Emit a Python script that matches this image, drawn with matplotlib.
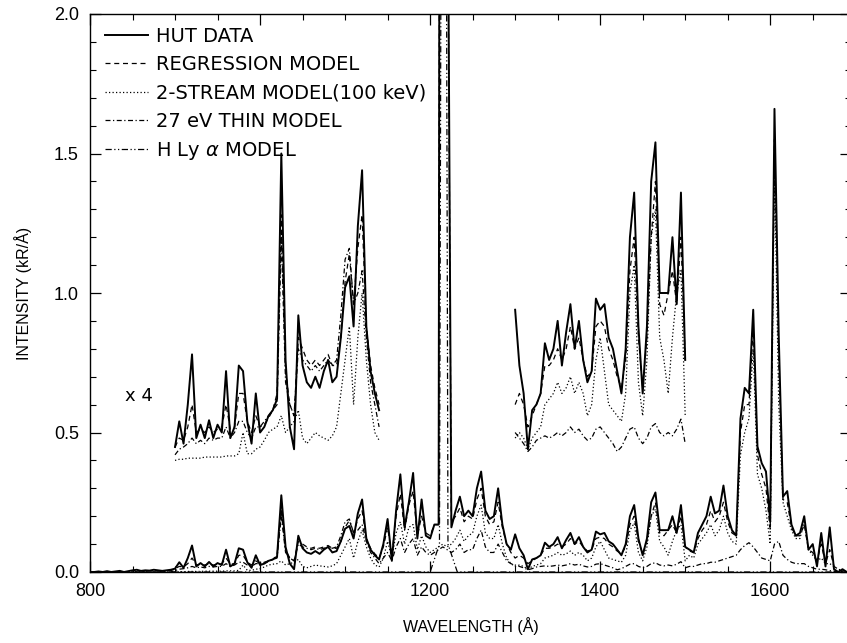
import numpy as np
import matplotlib
matplotlib.use("Agg")
from matplotlib import pyplot as plt
from matplotlib.ticker import MultipleLocator

plt.rcParams['font.family'] = ['Liberation Sans', 'DejaVu Sans']

wave = np.arange(800, 1691, 5)

hut = [0.0, 0.0, 0.002, 0.0, 0.003, 0.0, 0.002, 0.004, 0.0, 0.003,
       0.006, 0.008, 0.004, 0.006, 0.005, 0.008, 0.006, 0.004, 0.006, 0.008,
       0.012, 0.035, 0.015, 0.05, 0.095, 0.02, 0.032, 0.02, 0.036, 0.02,
       0.032, 0.025, 0.08, 0.02, 0.03, 0.085, 0.08, 0.035, 0.015, 0.06,
       0.025, 0.03, 0.04, 0.045, 0.055, 0.275, 0.09, 0.03, 0.01, 0.13,
       0.085, 0.07, 0.065, 0.075, 0.065, 0.08, 0.09, 0.07, 0.075, 0.11,
       0.155, 0.165, 0.12, 0.21, 0.26, 0.12, 0.08, 0.06, 0.045, 0.10,
       0.19, 0.04, 0.22, 0.35, 0.16, 0.25, 0.355, 0.12, 0.26, 0.13,
       0.12, 0.17, 0.17, 12.0, 3.0, 0.16, 0.22, 0.27, 0.2, 0.22,
       0.2, 0.3, 0.36, 0.22, 0.19, 0.2, 0.3, 0.17, 0.1, 0.08,
       0.135, 0.085, 0.06, 0.01, 0.045, 0.05, 0.06, 0.105, 0.09, 0.1,
       0.125, 0.085, 0.115, 0.14, 0.1, 0.125, 0.09, 0.07, 0.08, 0.145,
       0.135, 0.14, 0.11, 0.1, 0.08, 0.06, 0.1, 0.2, 0.24, 0.12,
       0.06, 0.12, 0.25, 0.285, 0.15, 0.15, 0.15, 0.2, 0.14, 0.24,
       0.09, 0.08, 0.07, 0.14, 0.17, 0.2, 0.27, 0.21, 0.22, 0.31,
       0.2, 0.15, 0.13, 0.55, 0.66, 0.64, 0.94, 0.45, 0.39, 0.36,
       0.18, 1.66, 0.85, 0.27, 0.29, 0.17, 0.13, 0.14, 0.2, 0.08,
       0.1, 0.02, 0.14, 0.02, 0.16, 0.01, 0.0, 0.01, 0.0]

regression = [0.0, 0.0, 0.0, 0.0, 0.0, 0.0, 0.0, 0.0, 0.0, 0.0,
              0.0, 0.0, 0.0, 0.0, 0.0, 0.0, 0.0, 0.0, 0.002, 0.005,
              0.012, 0.02, 0.018, 0.03, 0.05, 0.025, 0.028, 0.025, 0.03, 0.025,
              0.028, 0.03, 0.05, 0.028, 0.03, 0.06, 0.06, 0.035, 0.025, 0.04,
              0.03, 0.032, 0.038, 0.045, 0.06, 0.22, 0.08, 0.05, 0.04, 0.11,
              0.1, 0.09, 0.085, 0.09, 0.085, 0.09, 0.095, 0.085, 0.085, 0.11,
              0.16, 0.185, 0.14, 0.19, 0.22, 0.12, 0.085, 0.065, 0.05, 0.09,
              0.16, 0.06, 0.2, 0.28, 0.15, 0.24, 0.29, 0.13, 0.2, 0.14,
              0.13, 0.17, 0.17, 11.0, 2.8, 0.18, 0.2, 0.23, 0.18, 0.2,
              0.19, 0.26, 0.3, 0.2, 0.17, 0.18, 0.25, 0.16, 0.1, 0.07,
              0.05, 0.06, 0.05, 0.03, 0.04, 0.05, 0.06, 0.085, 0.085, 0.09,
              0.1, 0.09, 0.1, 0.12, 0.1, 0.11, 0.09, 0.075, 0.08, 0.12,
              0.125, 0.12, 0.1, 0.09, 0.075, 0.065, 0.09, 0.17, 0.2, 0.11,
              0.065, 0.11, 0.2, 0.25, 0.14, 0.13, 0.15, 0.17, 0.14, 0.2,
              0.09, 0.075, 0.07, 0.12, 0.15, 0.17, 0.22, 0.18, 0.2, 0.25,
              0.18, 0.14, 0.13, 0.5, 0.6, 0.6, 0.88, 0.42, 0.35, 0.3,
              0.15, 1.55, 0.75, 0.26, 0.25, 0.16, 0.13, 0.13, 0.17, 0.08,
              0.07, 0.04, 0.1, 0.03, 0.08, 0.02, 0.01, 0.0, 0.0]

two_stream = [0.0, 0.0, 0.0, 0.0, 0.0, 0.0, 0.0, 0.0, 0.0, 0.0,
              0.0, 0.0, 0.0, 0.0, 0.0, 0.0, 0.0, 0.0, 0.0, 0.0,
              0.0, 0.001, 0.001, 0.002, 0.002, 0.002, 0.002, 0.003, 0.003, 0.003,
              0.003, 0.003, 0.004, 0.004, 0.004, 0.006, 0.025, 0.006, 0.006, 0.01,
              0.012, 0.018, 0.025, 0.028, 0.03, 0.04, 0.025, 0.03, 0.035, 0.045,
              0.02, 0.015, 0.02, 0.025, 0.022, 0.02, 0.018, 0.022, 0.03, 0.06,
              0.09, 0.12, 0.05, 0.11, 0.15, 0.09, 0.05, 0.025, 0.018, 0.05,
              0.11, 0.05, 0.14, 0.18, 0.1, 0.16, 0.17, 0.08, 0.13, 0.09,
              0.07, 0.08, 0.09, 0.1, 0.09, 0.1, 0.12, 0.15, 0.11, 0.13,
              0.14, 0.2, 0.24, 0.14, 0.12, 0.12, 0.17, 0.1, 0.05, 0.03,
              0.02, 0.025, 0.02, 0.01, 0.02, 0.025, 0.03, 0.05, 0.055, 0.06,
              0.07, 0.06, 0.065, 0.075, 0.06, 0.07, 0.06, 0.04, 0.05, 0.09,
              0.11, 0.08, 0.05, 0.045, 0.04, 0.035, 0.06, 0.15, 0.175, 0.07,
              0.04, 0.09, 0.2, 0.225, 0.11, 0.09, 0.06, 0.11, 0.15, 0.17,
              0.04, 0.06, 0.05, 0.1, 0.12, 0.14, 0.17, 0.13, 0.15, 0.2,
              0.14, 0.11, 0.1, 0.42, 0.5, 0.55, 0.8, 0.35, 0.3, 0.22,
              0.1, 1.45, 0.6, 0.25, 0.2, 0.15, 0.12, 0.12, 0.18, 0.08,
              0.06, 0.04, 0.05, 0.03, 0.03, 0.02, 0.01, 0.005, 0.0]

thin_27ev = [0.0, 0.0, 0.0, 0.0, 0.0, 0.0, 0.0, 0.0, 0.0, 0.0,
             0.0, 0.0, 0.0, 0.0, 0.0, 0.0, 0.0, 0.0, 0.0, 0.0,
             0.005, 0.01, 0.012, 0.015, 0.02, 0.015, 0.018, 0.015, 0.02, 0.018,
             0.02, 0.02, 0.03, 0.02, 0.025, 0.035, 0.035, 0.025, 0.02, 0.03,
             0.03, 0.035, 0.04, 0.045, 0.05, 0.2, 0.07, 0.05, 0.04, 0.1,
             0.09, 0.085, 0.08, 0.085, 0.08, 0.085, 0.09, 0.085, 0.09, 0.13,
             0.18, 0.19, 0.14, 0.15, 0.17, 0.11, 0.07, 0.05, 0.03, 0.05,
             0.07, 0.04, 0.09, 0.12, 0.07, 0.1, 0.12, 0.06, 0.09, 0.07,
             0.06, 0.07, 0.08, 0.09, 0.08, 0.07, 0.08, 0.1, 0.07, 0.08,
             0.08, 0.12, 0.15, 0.09, 0.07, 0.07, 0.1, 0.07, 0.04, 0.03,
             0.025, 0.02, 0.015, 0.008, 0.012, 0.018, 0.02, 0.022, 0.02, 0.022,
             0.025, 0.022, 0.025, 0.03, 0.025, 0.028, 0.022, 0.018, 0.02, 0.028,
             0.03, 0.025, 0.02, 0.015, 0.008, 0.012, 0.02, 0.028, 0.03, 0.02,
             0.015, 0.02, 0.03, 0.033, 0.025, 0.022, 0.025, 0.022, 0.028, 0.037,
             0.015, 0.02, 0.02, 0.025, 0.03, 0.03, 0.035, 0.035, 0.04, 0.045,
             0.05, 0.055, 0.06, 0.08, 0.095, 0.105, 0.09, 0.07, 0.05, 0.045,
             0.04, 0.1, 0.11, 0.06, 0.045, 0.035, 0.03, 0.03, 0.03, 0.02,
             0.015, 0.01, 0.01, 0.008, 0.005, 0.003, 0.0, 0.0, 0.0]

# H Ly alpha line model (only non-zero around 1216 A)
lya_wave = [800, 1200, 1211, 1213, 1216, 1219, 1221, 1232, 1690]
lya_model = [0.0, 0.0, 0.1, 2.5, 8.0, 2.5, 0.1, 0.0, 0.0]

# x4 magnified windows, shifted up by 0.4
zoom_ranges = [(900, 1140), (1300, 1500)]
zoom_factor = 4
zoom_offset = 0.4

series = [
    (hut, 'HUT DATA', '-', 1.4),
    (regression, 'REGRESSION MODEL', (0, (4, 3)), 0.9),
    (two_stream, '2-STREAM MODEL(100 keV)', (0, (1, 1.8)), 0.9),
    (thin_27ev, '27 eV THIN MODEL', (0, (4, 2, 1, 2)), 0.9),
]

fig = plt.figure(figsize=(8.47, 6.43), dpi=100)
ax = fig.add_axes([90 / 847, 71 / 643, 761 / 847, 558 / 643])

handles = []
for vals, lab, ls, lw in series:
    vals = np.array(vals)
    h, = ax.plot(wave, vals, color='k', ls=ls, lw=lw, label=lab)
    handles.append(h)
    for lo, hi in zoom_ranges:
        sel = (wave >= lo) & (wave <= hi)
        ax.plot(wave[sel], zoom_offset + zoom_factor * vals[sel],
                color='k', ls=ls, lw=lw)

h, = ax.plot(lya_wave, lya_model, color='k', ls=(0, (5, 2, 1, 2, 1, 2)),
             lw=0.9, label=r'H Ly $\alpha$ MODEL')
handles.append(h)

ax.text(858, 0.63, 'x 4', fontsize=13, va='center', ha='center',
        family='DejaVu Sans')

ax.set_xlim(800, 1695)
ax.set_ylim(0, 2.0)
ax.xaxis.set_major_locator(MultipleLocator(200))
ax.xaxis.set_minor_locator(MultipleLocator(50))
ax.yaxis.set_major_locator(MultipleLocator(0.5))
ax.yaxis.set_minor_locator(MultipleLocator(0.1))
ax.yaxis.set_major_formatter(plt.FormatStrFormatter('%.1f'))
ax.tick_params(which='both', direction='in', top=True, right=True, labelsize=13)
ax.tick_params(which='major', length=8, width=0.9, pad=8)
ax.tick_params(which='minor', length=4.5, width=0.8)
for s in ax.spines.values():
    s.set_linewidth(1.0)

ax.set_xlabel('WAVELENGTH (Å)', fontsize=11.5, labelpad=12)
ax.set_ylabel('INTENSITY (kR/Å)', fontsize=11.5, labelpad=16)

ax.legend(handles=handles, loc='upper left', bbox_to_anchor=(0.02, 0.977),
          frameon=False, prop={'family': 'DejaVu Sans', 'size': 14},
          handlelength=2.2, handletextpad=0.4,
          labelspacing=0.48, borderaxespad=0, borderpad=0)

fig.savefig('out.png', dpi=100)
